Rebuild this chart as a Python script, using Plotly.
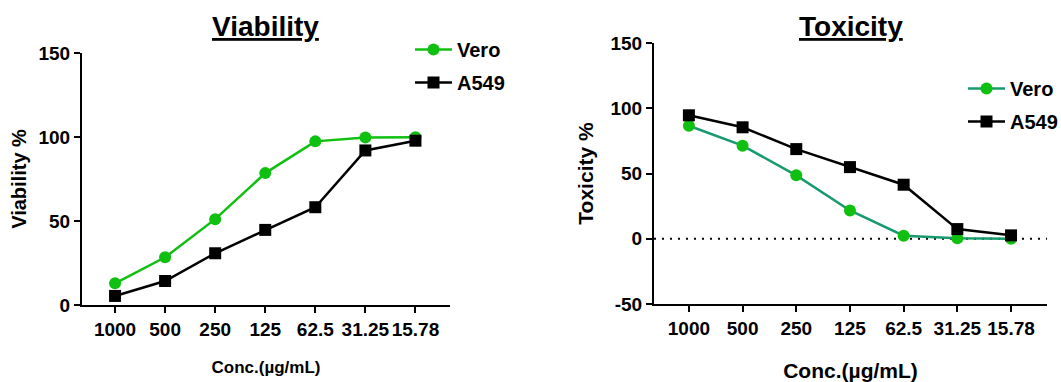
import plotly.graph_objects as go

categories = ["1000", "500", "250", "125", "62.5", "31.25", "15.78"]
viab_vero = [12.9, 28.4, 51.1, 78.5, 97.4, 99.7, 99.9]
viab_a549 = [5.4, 14.3, 30.8, 44.7, 58.2, 92.0, 97.8]
tox_vero = [86.6, 71.3, 48.6, 21.7, 2.3, 0.3, 0.0]
tox_a549 = [94.6, 85.4, 68.7, 54.9, 41.4, 7.4, 2.6]
viab_ticks = [0, 50, 100, 150]
tox_ticks = [-50, 0, 50, 100, 150]
tox_ticklabels = ["-50", "0", "50", "100", "150"]

GREEN = "#10c010"
TEAL = "#169a6e"
FONT = "Liberation Sans, Arial, sans-serif"
idx = list(range(len(categories)))

fig = go.Figure()
fig.add_trace(go.Scatter(x=idx, y=viab_vero, name="Vero", mode="lines+markers",
                         line=dict(color=GREEN, width=2.5),
                         marker=dict(symbol="circle", size=12, color=GREEN),
                         xaxis="x", yaxis="y", legend="legend", legendgroup="v1"))
fig.add_trace(go.Scatter(x=idx, y=viab_a549, name="A549", mode="lines+markers",
                         line=dict(color="black", width=2.5),
                         marker=dict(symbol="square", size=12, color="black"),
                         xaxis="x", yaxis="y", legend="legend", legendgroup="a1"))
fig.add_trace(go.Scatter(x=idx, y=tox_vero, name="Vero", mode="lines+markers",
                         line=dict(color=TEAL, width=2.5),
                         marker=dict(symbol="circle", size=12, color=GREEN),
                         xaxis="x2", yaxis="y2", legend="legend2", legendgroup="v2"))
fig.add_trace(go.Scatter(x=idx, y=tox_a549, name="A549", mode="lines+markers",
                         line=dict(color="black", width=2.5),
                         marker=dict(symbol="square", size=12, color="black"),
                         xaxis="x2", yaxis="y2", legend="legend2", legendgroup="a2"))

tickfont = dict(family=FONT, size=19, color="black", weight="bold")
common_x = dict(tickmode="array", tickvals=idx, ticktext=categories,
                showline=True, linecolor="black", linewidth=2, ticks="outside",
                ticklen=6, tickwidth=2, tickcolor="black", showgrid=False,
                zeroline=False, tickfont=tickfont)
common_y = dict(showline=True, linecolor="black", linewidth=2, ticks="outside",
                ticklen=6, tickwidth=2, tickcolor="black", showgrid=False,
                zeroline=False, tickfont=tickfont, tickmode="array")

legfont = dict(size=20, family=FONT, weight="bold", color="black")

fig.update_layout(
    width=1061, height=382, plot_bgcolor="white", paper_bgcolor="white",
    margin=dict(l=0, r=0, t=0, b=0, autoexpand=False), showlegend=True,
    font=dict(family=FONT, color="black"),
    xaxis=dict(domain=[82/1061, 450/1061], range=[-0.66, 6.69], anchor="y",
               title=dict(text="Conc.(µg/mL)", font=dict(size=17, weight="bold"), standoff=22),
               **common_x),
    yaxis=dict(domain=[77/382, 329/382], range=[0, 150], tickvals=viab_ticks,
               ticktext=[str(t) for t in viab_ticks], anchor="x",
               title=dict(text="Viability %", font=dict(size=20, weight="bold"), standoff=6),
               **common_y),
    xaxis2=dict(domain=[654/1061, 1047/1061], range=[-0.65, 6.67], anchor="y2",
                title=dict(text="Conc.(µg/mL)", font=dict(size=21, weight="bold"), standoff=28),
                **common_x),
    yaxis2=dict(domain=[78/382, 339/382], range=[-50, 150], tickvals=tox_ticks,
                ticktext=tox_ticklabels, anchor="x2",
                title=dict(text="Toxicity %", font=dict(size=21, weight="bold"), standoff=11),
                **common_y),
    legend=dict(x=410/1061, y=1-30/382, xanchor="left", yanchor="top",
                font=legfont, bgcolor="rgba(0,0,0,0)",
                tracegroupgap=4, itemwidth=37),
    legend2=dict(x=963/1061, y=1-69/382, xanchor="left", yanchor="top",
                 font=legfont, bgcolor="rgba(0,0,0,0)",
                 tracegroupgap=4, itemwidth=37),
    shapes=[dict(type="line", xref="x2 domain", yref="y2", x0=0, x1=1, y0=0, y1=0,
                 line=dict(color="black", width=2, dash="2px,6px"), layer="below")],
    annotations=[
        dict(text="<u>Viability</u>", x=265/1061, y=1-26/382, xref="paper", yref="paper",
             showarrow=False, font=dict(size=28, family=FONT, weight="bold"),
             xanchor="center", yanchor="middle"),
        dict(text="<u>Toxicity</u>", x=851/1061, y=1-27/382, xref="paper", yref="paper",
             showarrow=False, font=dict(size=28, family=FONT, weight="bold"),
             xanchor="center", yanchor="middle"),
    ],
)

fig.write_html("out.html", config={"displayModeBar": False},
               post_script="document.body.style.margin='0';document.body.style.padding='0';")
